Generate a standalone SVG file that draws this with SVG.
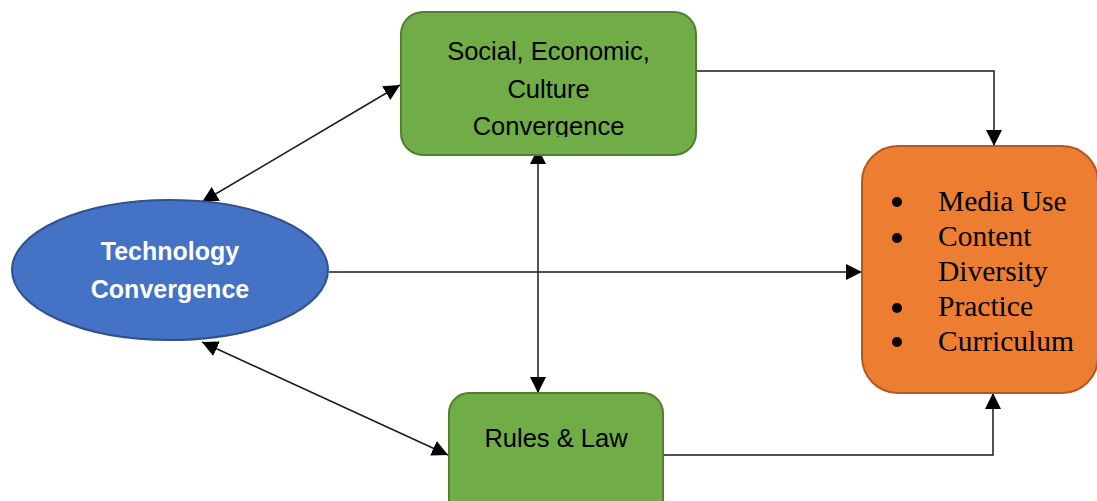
<svg xmlns="http://www.w3.org/2000/svg" width="1097" height="501" viewBox="0 0 1097 501">
  <style>
    .green { fill: #70AD47; stroke: #507E32; stroke-width: 2; }
    .blue { fill: #4472C4; stroke: #2F528F; stroke-width: 2; }
    .orange { fill: #ED7D31; stroke: #AE5A21; stroke-width: 2; }
    .lbl { font-family: "Liberation Sans", Arial, sans-serif; font-size: 25.5px; fill: #000; text-anchor: middle; }
    .lblw { font-family: "Liberation Sans", Arial, sans-serif; font-size: 25px; font-weight: bold; fill: #FFFFFF; text-anchor: middle; }
    .ser { font-family: "Liberation Serif", "Times New Roman", serif; font-size: 29.5px; fill: #000; }
    .conn { fill: none; stroke: #1a1a1a; stroke-width: 1.5; }
  </style>
  <defs>
    <marker id="arr" viewBox="0 0 16 16" refX="16" refY="8" markerWidth="16" markerHeight="16" markerUnits="userSpaceOnUse" orient="auto-start-reverse">
      <path d="M0,0 L16,8 L0,16 z" fill="#000"/>
    </marker>
    <clipPath id="topclip">
      <rect x="401" y="12" width="295" height="125"/>
    </clipPath>
  </defs>
  <rect width="1097" height="501" fill="#FFFFFF"/>

  <g id="connectors">
    <path class="conn" d="M696,71 H994 V146" marker-end="url(#arr)"/>
    <path class="conn" d="M663,455 H993 V393" marker-end="url(#arr)"/>
    <path class="conn" d="M329,272 H862" marker-end="url(#arr)"/>
    <path class="conn" d="M538,148 V393" marker-start="url(#arr)" marker-end="url(#arr)"/>
    <path class="conn" d="M202,202 L400,85" marker-start="url(#arr)" marker-end="url(#arr)"/>
    <path class="conn" d="M202,342 L448,455" marker-start="url(#arr)" marker-end="url(#arr)"/>
  </g>

  <g id="node-social">
    <rect class="green" x="401" y="12" width="295" height="143" rx="22" ry="22"/>
    <g clip-path="url(#topclip)">
      <text class="lbl" x="548.5" y="60">Social, Economic,</text>
      <text class="lbl" x="548.5" y="98">Culture</text>
      <text class="lbl" x="548.5" y="135">Convergence</text>
    </g>
  </g>

  <g id="node-technology">
    <ellipse class="blue" cx="170" cy="270" rx="158" ry="70"/>
    <text class="lblw" x="170" y="260">Technology</text>
    <text class="lblw" x="170" y="298">Convergence</text>
  </g>

  <g id="node-rules">
    <rect class="green" x="449" y="393" width="214" height="130" rx="20" ry="20"/>
    <text class="lbl" x="556" y="447">Rules &amp; Law</text>
  </g>

  <g id="node-outcomes">
    <rect class="orange" x="862" y="146" width="236" height="247" rx="36" ry="36"/>
    <circle cx="897" cy="202" r="5"/>
    <circle cx="897" cy="238" r="5"/>
    <circle cx="897" cy="308" r="5"/>
    <circle cx="897" cy="342" r="5"/>
    <text class="ser" x="938" y="211">Media Use</text>
    <text class="ser" x="938" y="246">Content</text>
    <text class="ser" x="938" y="281">Diversity</text>
    <text class="ser" x="938" y="316">Practice</text>
    <text class="ser" x="938" y="351">Curriculum</text>
  </g>
</svg>
